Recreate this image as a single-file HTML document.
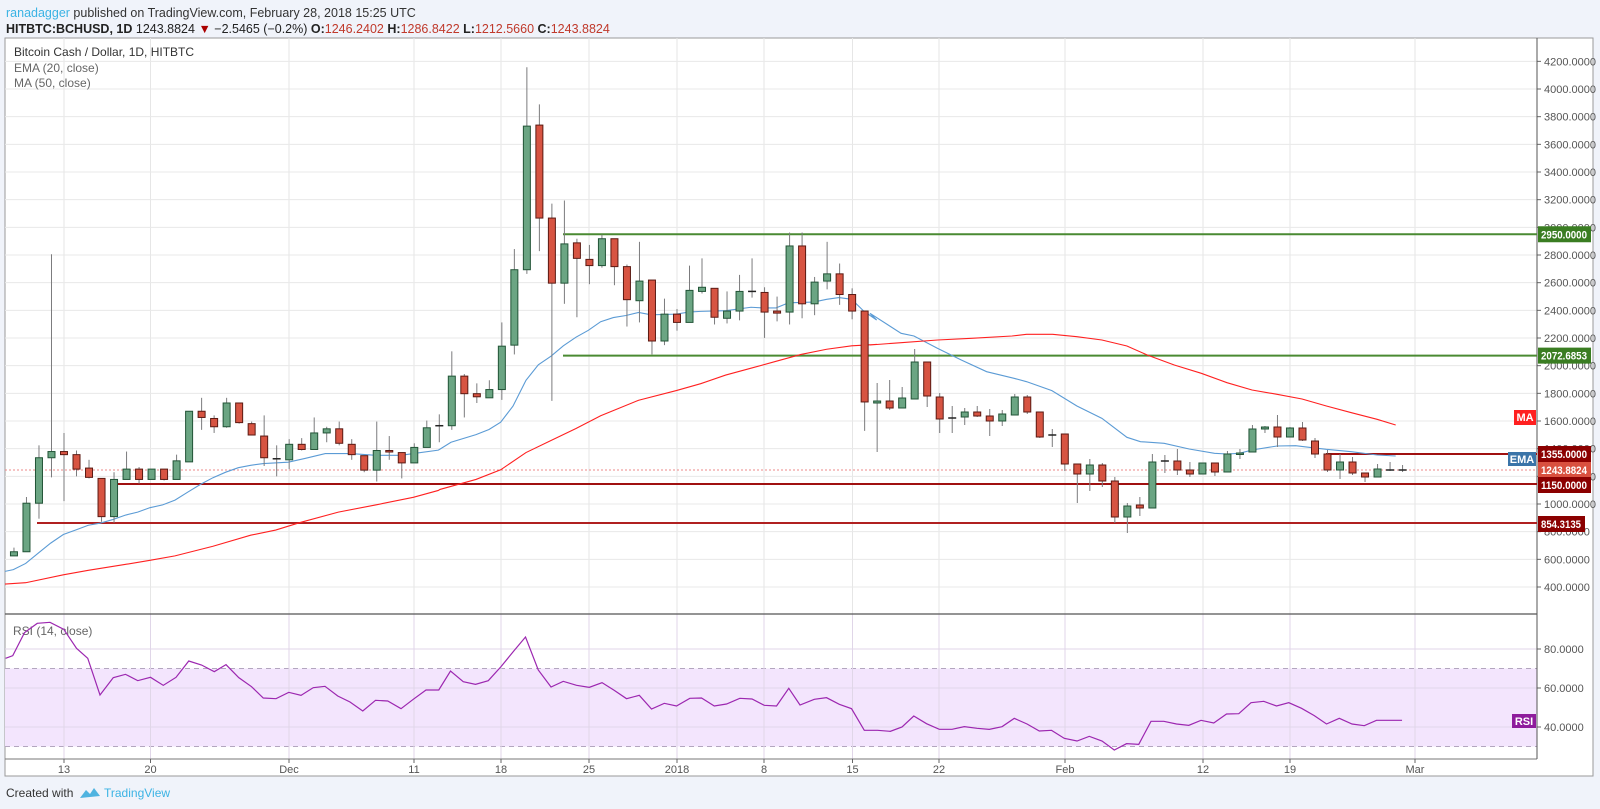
<!DOCTYPE html>
<html><head><meta charset="utf-8"><style>
html,body{margin:0;padding:0;background:#f0f3fa;width:1600px;height:809px;overflow:hidden;font-family:"Liberation Sans",sans-serif;}
svg{position:absolute;left:0;top:0}
</style></head><body>
<svg id="s" width="1600" height="809" xmlns="http://www.w3.org/2000/svg"></svg>
<script>
const S=document.getElementById('s');let h='';
const L=5,R=1537,FR=1593,T=38,MB=614,RB=759,FB=776;
const py=p=>587-(p-400)*0.13833;
const rx=i=>64+(i-5)*12.51;
h+=`<text x="6" y="17" font-size="12.5" fill="#333"><tspan fill="#3bb3e4">ranadagger</tspan> published on TradingView.com, February 28, 2018 15:25 UTC</text>`;
h+=`<text x="6" y="33" font-size="12.5" fill="#222"><tspan font-weight="bold">HITBTC:BCHUSD, 1D</tspan> 1243.8824 <tspan fill="#a00">▼</tspan> −2.5465 (−0.2%) <tspan font-weight="bold">O:</tspan><tspan fill="#c0392b">1246.2402</tspan> <tspan font-weight="bold">H:</tspan><tspan fill="#c0392b">1286.8422</tspan> <tspan font-weight="bold">L:</tspan><tspan fill="#c0392b">1212.5660</tspan> <tspan font-weight="bold">C:</tspan><tspan fill="#c0392b">1243.8824</tspan></text>`;
h+=`<rect x="${L}" y="${T}" width="${FR-L}" height="${FB-T}" fill="#fff" stroke="#9a9a9a"/>`;
const ticks=[[64,'13'],[150.5,'20'],[289,'Dec'],[414,'11'],[501,'18'],[589,'25'],[677,'2018'],[764,'8'],[852.5,'15'],[939,'22'],[1065,'Feb'],[1203,'12'],[1290,'19'],[1415,'Mar']];
for(const [x] of ticks)h+=`<line x1="${x}" y1="${T}" x2="${x}" y2="${RB}" stroke="#e6e6e6"/>`;
for(let p=400;p<=4200;p+=200){const y=py(p);h+=`<line x1="${L}" y1="${y}" x2="${R}" y2="${y}" stroke="#e8e8e8"/>`;h+=`<line x1="${R}" y1="${y}" x2="${R+4}" y2="${y}" stroke="#666"/><text x="${R+7}" y="${y+4}" font-size="11" fill="#555">${p}.0000</text>`;}
const ry=v=>727-(v-40)*1.95;
h+=`<rect x="${L}" y="${ry(70)}" width="${R-L}" height="${ry(30)-ry(70)}" fill="#f3e5fd"/>`;
for(const v of [40,60,80]){h+=`<line x1="${L}" y1="${ry(v)}" x2="${R}" y2="${ry(v)}" stroke="#e2d6ea"/><line x1="${R}" y1="${ry(v)}" x2="${R+4}" y2="${ry(v)}" stroke="#666"/><text x="${R+7}" y="${ry(v)+4}" font-size="11" fill="#555">${v}.0000</text>`;}
for(const v of [30,70])h+=`<line x1="${L}" y1="${ry(v)}" x2="${R}" y2="${ry(v)}" stroke="#b3a6bf" stroke-dasharray="5,4"/>`;
for(const [x] of ticks)h+=`<line x1="${x}" y1="${MB}" x2="${x}" y2="${RB}" stroke="#e0d6e8"/>`;
h+=`<line x1="${L}" y1="${MB}" x2="${R}" y2="${MB}" stroke="#555" stroke-width="1.3"/>`;
h+=`<line x1="${L}" y1="${RB}" x2="${R}" y2="${RB}" stroke="#777"/>`;
h+=`<line x1="${R}" y1="${T}" x2="${R}" y2="${RB}" stroke="#555"/>`;
for(const [x,t] of ticks)h+=`<line x1="${x}" y1="${RB}" x2="${x}" y2="${RB+4}" stroke="#666"/><text x="${x}" y="${RB+14}" font-size="11" fill="#555" text-anchor="middle">${t}</text>`;
h+=`<text x="14" y="56" font-size="12" fill="#333">Bitcoin Cash / Dollar, 1D, HITBTC</text><text x="14" y="72" font-size="12" fill="#666">EMA (20, close)</text><text x="14" y="87" font-size="12" fill="#666">MA (50, close)</text>`;
h+=`<text x="13" y="635" font-size="12" fill="#666">RSI (14, close)</text>`;
const pl=(pts,c,w)=>`<polyline points="${pts.map(p=>p.join(',')).join(' ')}" fill="none" stroke="${c}" stroke-width="${w}"/>`;
const z3=a=>a.map(([x,y])=>[5+x/3,60+y/2.904]);
const z4=a=>a.map(([x,y])=>[440+x/3,60+y/2.904]);
const z5=a=>a.map(([x,y])=>[870+x/2.958,300+y/3]);
const ema=[...z3([[0,1485],[25,1480],[62,1462],[100,1432],[137,1403],[175,1378],[212,1365],[250,1351],[285,1345],[322,1335],[360,1322],[398,1313],[435,1300],[473,1292],[510,1278],[548,1255],[587,1232],[624,1213],[662,1197],[700,1184],[737,1177],[775,1172],[850,1168],[900,1157],[961,1143],[1037,1143],[1112,1148],[1188,1148],[1225,1143],[1300,1133]]),
...z4([[0,1130],[33,1110],[108,1088],[147,1073],[182,1052],[219,1005],[258,930],[295,885],[333,860],[370,830],[408,805],[445,785],[482,760],[520,748],[558,742],[596,733],[633,740],[709,738],[746,732],[782,730],[857,728],[933,718],[970,720],[1008,720],[1046,705],[1121,703],[1160,695],[1197,690],[1235,695],[1272,730],[1310,755]]),
...z5([[0,40],[92,100],[130,108],[200,145],[270,180],[345,215],[426,235],[463,245],[538,272],[612,318],[686,355],[760,412],[800,425],[870,430],[944,447],[1019,460],[1056,462],[1093,460],[1130,450],[1204,438],[1259,437],[1308,443],[1350,448],[1424,455],[1500,465],[1555,468]])];
const ma=[...z3([[0,1522],[62,1518],[175,1495],[250,1482],[360,1465],[435,1453],[510,1440],[624,1412],[737,1380],[812,1365],[886,1343],[1000,1313],[1112,1292],[1225,1270],[1300,1250]]),
...z4([[0,1247],[108,1218],[182,1190],[258,1140],[333,1105],[408,1070],[482,1033],[596,988],[709,960],[782,940],[857,915],[933,895],[1008,875],[1083,855],[1160,840],[1235,830],[1310,826]]),
...z5([[0,135],[92,128],[200,120],[300,115],[420,108],[463,103],[540,103],[612,110],[686,120],[760,138],[820,165],[900,195],[980,220],[1056,248],[1130,270],[1204,283],[1278,297],[1350,318],[1424,338],[1500,358],[1555,375]])];
h+=`<line x1="${L}" y1="470" x2="${R}" y2="470" stroke="#e88" stroke-dasharray="2,2"/>`;
h+=`<line x1="563" y1="${py(2950)}" x2="${R}" y2="${py(2950)}" stroke="#4a8a32" stroke-width="2"/>`;
h+=`<line x1="563" y1="${py(2072.6853)}" x2="${R}" y2="${py(2072.6853)}" stroke="#4a8a32" stroke-width="2"/>`;
h+=`<line x1="1326" y1="454" x2="${R}" y2="454" stroke="#a01010" stroke-width="2"/>`;
h+=`<line x1="112" y1="484" x2="${R}" y2="484" stroke="#a01010" stroke-width="2"/>`;
h+=`<line x1="37" y1="523" x2="${R}" y2="523" stroke="#b02020" stroke-width="2"/>`;
h+=pl(ema,'#5b9bd5',1.1)+pl(ma,'#ff2020',1.1);
const A=[['g',536,540,532,540],['g',489,536,483,536],['g',445,489,433,504],['g',439,445,248,464],['r',439,442,421,487],['r',442,456,438,463],['r',455,464,447,465],['r',465,502,465,507],['g',466,502,459,508],['g',456,466,439,466],['r',456,466,454,470],['g',456,466,456,466],['r',456,466,456,467],['g',448,466,442,466],['g',400,449,400,449],['r',400,406,387,418],['r',407,415,404,421],['g',392,415,387,416],['r',392,411,392,412],['r',412,423,410,423],['r',424,445,404,453],['d',446,447,433,463],['g',432,447,427,456],['r',432,437,426,438],['g',421,437,406,437],['g',417,421,415,430],['r',417,431,410,433],['r',432,442,427,447],['r',443,457,443,459],['g',438,457,410,468],['r',438,439,424,447],['r',440,450,440,465],['g',435,450,431,450],['g',416,435,409,435],['d',414,415,403,430],['g',366,414,342,418],['r',366,383,364,406],['r',383,386,373,392],['g',379,387,370,387],['g',337,379,314,389],['g',263,336,243,345],['g',124,263,67,267],['r',123,213,103,245],['r',213,276,199,390],['g',238,276,196,296],['r',237,252,233,309],['r',253,259,239,277],['g',233,259,229,261],['r',233,260,233,278],['r',260,292,258,318],['g',274,293,236,314],['r',273,332,273,345],['g',306,332,291,336],['r',306,314,301,322],['g',283,314,259,314],['g',280,284,252,286],['r',281,309,281,316],['g',303,310,284,315],['g',284,303,268,312],['d',284,285,252,290],['r',285,304,280,329],['r',303,305,289,313],['g',240,304,227,316],['r',240,296,227,310],['g',275,296,270,307],['g',267,274,236,282],['r',267,287,257,297],['r',287,303,281,311],['r',303,391,303,419]];
const B=[['g',391,393,373,442],['r',391,398,370,400],['g',388,398,377,398],['g',352,389,339,389],['r',352,386,352,397],['r',387,409,383,423],['d',408,409,396,423],['g',402,407,398,415],['r',402,406,396,407],['r',406,411,399,426],['g',404,411,400,416],['g',387,405,384,405],['r',387,402,385,404],['r',402,427,402,428],['d',425,426,419,437],['r',424,454,424,461],['r',454,464,454,493],['g',455,464,449,481],['r',455,471,453,477],['r',471,507,467,513],['g',496,507,493,523],['r',495,498,487,506],['g',452,498,444,498],['d',451,452,445,463],['r',451,460,439,465],['r',460,464,452,467],['g',453,464,453,464],['r',453,462,453,466],['g',444,462,441,462],['g',443,444,439,449],['g',419,442,415,442],['g',417,419,416,423],['r',417,427,405,437],['g',418,427,417,427],['r',418,430,412,431],['r',431,444,428,448],['r',444,460,440,462],['g',452,460,444,469],['r',452,463,447,465],['r',463,467,463,472],['g',459,467,454,467],['d',460,461,452,461],['d',460,461,455,462]];
const tA=y=>60+(y-60)*1.0331, tB=y=>y+10;
const all=[...A.map(c=>[c[0],tA(c[1]),tA(c[2]),tA(c[3]),tA(c[4])]),...B.map(c=>[c[0],tB(c[1]),tB(c[2]),tB(c[3]),tB(c[4])])];
all.forEach((c,k)=>{const x=rx(k+1);const [t,a,b,hi,lo]=c;
h+=`<line x1="${x}" y1="${hi}" x2="${x}" y2="${lo}" stroke="#7b7b7d"/>`;
if(t==='d'){h+=`<line x1="${x-4}" y1="${a}" x2="${x+4}" y2="${a}" stroke="#222" stroke-width="1.5"/>`;}
else{const f=t==='g'?'#6ba583':'#d75442',s=t==='g'?'#225437':'#5b1a13';h+=`<rect x="${x-3.5}" y="${a}" width="7" height="${Math.max(b-a,1.5)}" fill="${f}" stroke="${s}" stroke-width="1"/>`;}
});
const r6=[[11,205],[25,197],[48,128],[73,100],[98,97],[125,118],[150,175],[172,205],[196,315],[222,263],[246,253],[270,272],[295,262],[320,286],[345,262],[370,213],[395,225],[420,245],[443,224],[468,263],[493,290],[516,324],[541,326],[566,307],[590,316],[614,293],[637,289],[662,318],[686,336],[711,363],[736,331],[760,333],[786,356],[810,328],[835,300],[860,300],[883,243],[908,275],[932,283],[957,272],[982,230],[1007,183],[1030,141],[1055,240],[1080,291],[1104,274],[1130,286],[1155,292],[1180,278],[1204,301],[1228,326],[1253,316],[1277,357],[1302,340],[1326,348],[1352,325],[1375,324],[1400,348],[1424,342],[1450,325],[1474,327],[1498,346],[1522,348],[1546,295]].map(([x,y])=>[x/1.96,590+y/3]);
const r7=[[0,345],[28,328],[52,323],[77,343],[101,356],[126,421],[152,421],[177,424],[200,411],[223,378],[248,401],[273,418],[298,418],[322,410],[347,415],[371,418],[396,410],[420,385],[445,402],[469,423],[493,421],[518,445],[543,453],[567,439],[592,453],[616,480],[640,461],[664,463],[688,394],[713,394],[738,402],[762,406],[786,391],[811,399],[836,372],[860,371],[884,338],[909,334],[934,348],[958,338],[983,355],[1008,377],[1032,402],[1057,385],[1082,402],[1106,407],[1130,391],[1155,391],[1180,391]].map(([x,y])=>[800+x/1.96,590+y/3]);
h+=pl([...r6,...r7],'#9c27b0',1.2);
const box=(y,txt,bg,w)=>`<rect x="${R+1}" y="${y-8}" width="${w||53}" height="16" fill="${bg}"/><text x="${R+4}" y="${y+4}" font-size="11" font-weight="bold" fill="#fff" textLength="${(w||53)-7}" lengthAdjust="spacingAndGlyphs">${txt}</text>`;
h+=box(py(2950),'2950.0000','#3a7d22');
h+=box(py(2072.6853),'2072.6853','#3a7d22');
h+=box(454,'1355.0000','#8b0000');
h+=box(470,'1243.8824','#d9503f');
h+=box(485,'1150.0000','#8b0000');
h+=box(524,'854.3135','#8b0000',47);
h+=`<rect x="1514" y="410" width="22" height="15" fill="#ff2020"/><text x="1525" y="421" font-size="11" font-weight="bold" fill="#fff" text-anchor="middle">MA</text>`;
h+=`<rect x="1508" y="452" width="28" height="14" fill="#3a74a8"/><text x="1522" y="463" font-size="11" font-weight="bold" fill="#fff" text-anchor="middle">EMA</text>`;
h+=`<rect x="1512" y="714" width="24" height="14" fill="#8e1c9c"/><text x="1524" y="725" font-size="11" font-weight="bold" fill="#fff" text-anchor="middle">RSI</text>`;
h+=`<text x="6" y="797" font-size="12" fill="#333">Created with</text><path d="M80 798 l6 -8 l4 4 l4 -6 l6 8 z" fill="#4fb3e0"/><text x="104" y="797" font-size="12" fill="#3bb3e4">TradingView</text>`;
S.innerHTML=h;
</script>
</body></html>
